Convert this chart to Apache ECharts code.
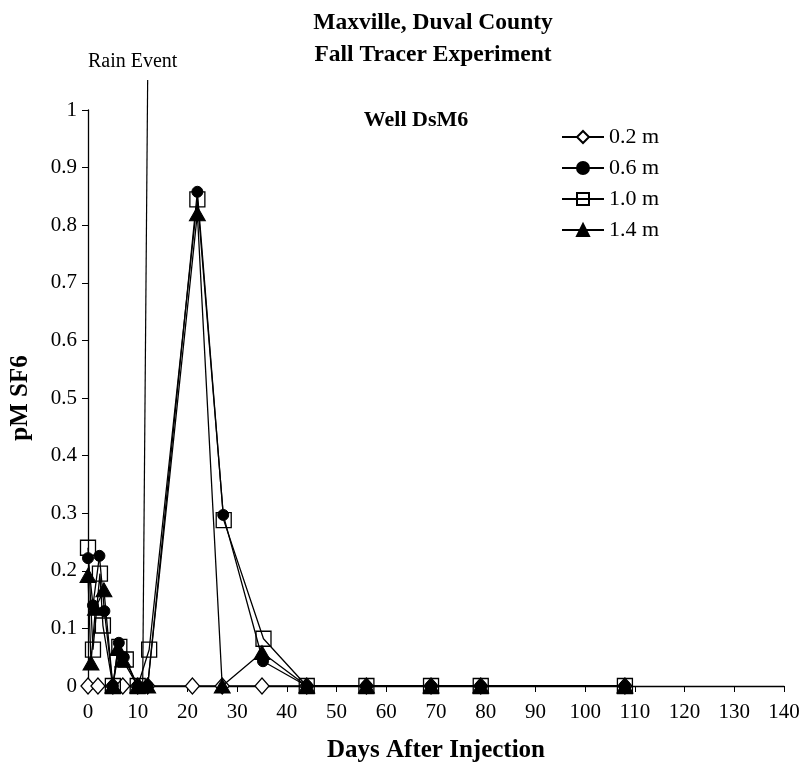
<!DOCTYPE html>
<html>
<head>
<meta charset="utf-8">
<script src="https://cdn.jsdelivr.net/npm/echarts@6/dist/echarts.min.js"></script>
<style>html,body{margin:0;padding:0;background:#fff}#c{width:804px;height:766px}</style>
</head>
<body>
<div id="c"></div>
<script>
const xTicks = [0,10,20,30,40,50,60,70,80,90,100,110,120,130,140];
const yTicks = [0,0.1,0.2,0.3,0.4,0.5,0.6,0.7,0.8,0.9,1];
const seriesNames = ['0.2 m','0.6 m','1.0 m','1.4 m'];
const d02 = [[0,0],[2,0],[5,0],[7,0],[10,0],[12,0],[21,0],[27,0],[35,0],[44,0],[56,0],[69,0],[79,0],[108,0]];
const d06 = [[0,0.222],[1,0.14],[2.3,0.226],[3.3,0.13],[5,0],[6.2,0.075],[7.2,0.05],[10,0],[12,0],[22,0.858],[27.2,0.297],[35.2,0.043],[44,0],[56,0],[69,0],[79,0],[108,0]];
const d10 = [[0,0.24],[1,0.063],[2.4,0.195],[3,0.105],[5,0],[6.3,0.068],[7.6,0.046],[10,0],[12.3,0.063],[22,0.845],[27.3,0.288],[35.3,0.082],[44,0],[56,0],[69,0],[79,0],[108,0]];
const d14 = [[0,0.192],[0.6,0.04],[1.5,0.135],[3.2,0.167],[5,0],[6,0.065],[7,0.045],[10,0],[12,0],[22,0.82],[27,0],[35,0.058],[44,0],[56,0],[69,0],[79,0],[108,0]];
const rainLine = [[11.0,0],[12.0,1.052]];

const serif = 'Liberation Serif';
const chart = echarts.init(document.getElementById('c'));
const lineStyle = {color:'#000', width:1.3};
chart.setOption({
  animation:false,
  backgroundColor:'#fff',
  title:[
    {text:'Maxville, Duval County', left:428, top:6, textAlign:'center', textStyle:{fontFamily:serif, fontWeight:'bold', fontSize:23.5, color:'#000'}},
    {text:'Fall Tracer Experiment', left:428, top:38, textAlign:'center', textStyle:{fontFamily:serif, fontWeight:'bold', fontSize:23.5, color:'#000'}},
    {text:'Well DsM6', left:411, top:104, textAlign:'center', textStyle:{fontFamily:serif, fontWeight:'bold', fontSize:22, color:'#000'}}
  ],
  legend:{
    orient:'vertical', left:556, top:121, itemGap:9, itemWidth:42, itemHeight:15,
    textStyle:{fontFamily:serif, fontSize:22, color:'#000'},
    data:seriesNames
  },
  grid:{left:88, right:20, top:110, bottom:80, containLabel:false, outerBoundsMode:'none'},
  xAxis:{
    type:'value', min:0, max:140, interval:10,
    name:'Days After Injection', nameLocation:'middle', nameGap:52,
    nameTextStyle:{fontFamily:serif, fontWeight:'bold', fontSize:25, color:'#000'},
    axisLine:{lineStyle:{color:'#000', width:1.3}},
    axisTick:{show:true, inside:false, length:6, lineStyle:{color:'#000'}},
    axisLabel:{fontFamily:serif, fontSize:21, color:'#000', margin:16},
    splitLine:{show:false}
  },
  yAxis:{
    type:'value', min:0, max:1, interval:0.1,
    name:'pM SF6', nameLocation:'middle', nameGap:55, nameRotate:90,
    nameTextStyle:{fontFamily:serif, fontWeight:'bold', fontSize:25, color:'#000'},
    axisLine:{show:true, lineStyle:{color:'#000', width:1.3}},
    axisTick:{show:true, inside:false, length:6, lineStyle:{color:'#000'}},
    axisLabel:{fontFamily:serif, fontSize:21, color:'#000', margin:11},
    splitLine:{show:false}
  },
  series:[
    {type:'line', name:'rain', data:rainLine, clip:false, symbol:'none', silent:true,
     lineStyle:{color:'#000', width:1.2}, z:1,
     label:{show:false},
     endLabel:{show:true, formatter:'Rain Event', align:'center', verticalAlign:'bottom', distance:0, offset:[-15,-8], fontFamily:serif, fontSize:20, color:'#000'}},
    {type:'line', name:'0.2 m', data:d02, symbol:'diamond', symbolSize:[14,16],
     itemStyle:{color:'#fff', borderColor:'#000', borderWidth:1.3}, lineStyle:lineStyle, z:2},
    {type:'line', name:'0.6 m', data:d06, symbol:'circle', symbolSize:11,
     itemStyle:{color:'#000', borderColor:'#000', borderWidth:1}, lineStyle:lineStyle, z:3},
    {type:'line', name:'1.0 m', data:d10, symbol:'rect', symbolSize:15,
     itemStyle:{color:'rgba(255,255,255,0)', borderColor:'#000', borderWidth:1.3}, lineStyle:lineStyle, z:4},
    {type:'line', name:'1.4 m', data:d14, symbol:'triangle', symbolSize:[16,14],
     itemStyle:{color:'#000', borderColor:'#000', borderWidth:1}, lineStyle:lineStyle, z:5}
  ]
});
</script>
</body>
</html>
